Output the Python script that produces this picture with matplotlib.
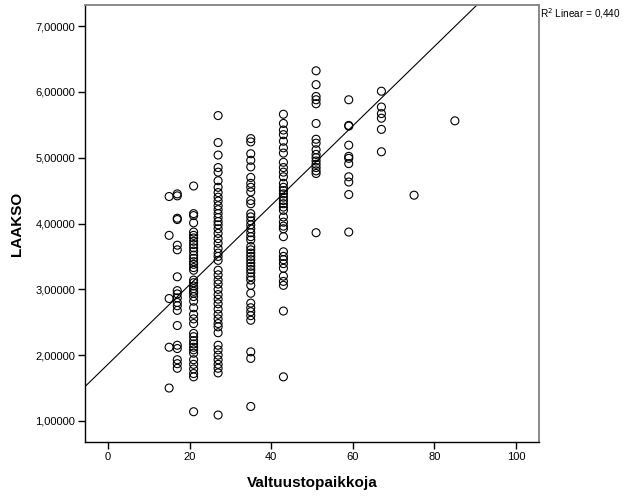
import matplotlib
matplotlib.use("Agg")
import matplotlib.pyplot as plt
from matplotlib.ticker import FuncFormatter
import numpy as np

plt.rcParams['font.family'] = ['Liberation Sans', 'DejaVu Sans']

# Council sizes (x) and LAAKSO values (y) per council size
y15 = [4.41, 3.82, 2.86, 2.12, 1.50]
y17 = [4.45, 4.42, 4.08, 4.06, 3.67, 3.60, 3.19, 2.98, 2.93, 2.87, 2.80, 2.75,
       2.68, 2.45, 2.15, 2.10, 1.93, 1.87, 1.80]
y21 = [4.57, 4.15, 4.12, 4.01, 3.87, 3.82, 3.78, 3.73, 3.68, 3.63, 3.58, 3.52,
       3.47, 3.42, 3.38, 3.33, 3.29, 3.14, 3.10, 3.05, 3.01, 2.97, 2.94, 2.89,
       2.82, 2.72, 2.62, 2.55, 2.48, 2.33, 2.28, 2.22, 2.17, 2.12, 2.08, 2.03,
       1.93, 1.86, 1.79, 1.72, 1.67, 1.14]
y27 = [5.64, 5.23, 5.04, 4.85, 4.78, 4.65, 4.55, 4.47, 4.40, 4.34, 4.27, 4.21,
       4.15, 4.09, 4.03, 3.98, 3.92, 3.85, 3.77, 3.70, 3.62, 3.55, 3.50, 3.44,
       3.29, 3.22, 3.14, 3.08, 3.00, 2.92, 2.85, 2.78, 2.70, 2.62, 2.55, 2.48,
       2.43, 2.34, 2.15, 2.08, 2.00, 1.93, 1.86, 1.80, 1.73, 1.09]
y35 = [5.29, 5.24, 5.06, 4.96, 4.86, 4.70, 4.61, 4.55, 4.48, 4.35, 4.30, 4.15,
       4.10, 4.04, 3.98, 3.92, 3.86, 3.80, 3.75, 3.65, 3.60, 3.55, 3.50, 3.45,
       3.40, 3.35, 3.30, 3.25, 3.19, 3.14, 3.06, 2.94, 2.79, 2.72, 2.66, 2.60,
       2.53, 2.05, 1.95, 1.22]
y43 = [5.66, 5.52, 5.42, 5.35, 5.25, 5.15, 5.07, 4.93, 4.85, 4.78, 4.71, 4.61,
       4.55, 4.50, 4.45, 4.40, 4.35, 4.30, 4.25, 4.20, 4.10, 4.02, 3.96, 3.92,
       3.80, 3.57, 3.50, 3.45, 3.39, 3.32, 3.20, 3.12, 3.06, 2.67, 1.67]
y51 = [6.32, 6.11, 5.93, 5.88, 5.82, 5.52, 5.28, 5.22, 5.12, 5.05, 5.00, 4.95,
       4.90, 4.85, 4.80, 4.76, 3.86]
y59 = [5.88, 5.49, 5.48, 5.19, 5.02, 4.99, 4.91, 4.71, 4.63, 4.44, 3.87]
y67 = [6.01, 5.77, 5.67, 5.60, 5.43, 5.09]
y75 = [4.43]
y85 = [5.56]

council_sizes = [15, 17, 21, 27, 35, 43, 51, 59, 67, 75, 85]
groups = [y15, y17, y21, y27, y35, y43, y51, y59, y67, y75, y85]

# Fit line
fit_intercept = 1.86
fit_slope = 0.0604
r2_label = "R$^2$ Linear = 0,440"

x_ticks = [0, 20, 40, 60, 80, 100]
y_ticks = [1, 2, 3, 4, 5, 6, 7]

xs = np.concatenate([[c] * len(g) for c, g in zip(council_sizes, groups)])
ys = np.concatenate(groups)

fig = plt.figure(figsize=(6.26, 5.01), dpi=100)
ax = fig.add_axes([85 / 626, 59 / 501, 454 / 626, 437 / 501])

ax.scatter(xs, ys, s=33, facecolors='none', edgecolors='black', linewidths=0.8, zorder=3)

xlim = (-5.6, 105.6)
ylim = (0.68, 7.32)
ax.set_xlim(*xlim)
ax.set_ylim(*ylim)

lx = np.array(xlim)
ax.plot(lx, fit_intercept + fit_slope * lx, color='black', linewidth=0.8, zorder=2)

ax.set_xticks(x_ticks)
ax.set_yticks(y_ticks)
ax.yaxis.set_major_formatter(FuncFormatter(lambda v, p: f"{v:.5f}".replace('.', ',')))
ax.tick_params(axis='both', direction='out', length=5, width=1, labelsize=8, color='black', pad=2)

for side in ['left', 'bottom']:
    ax.spines[side].set_color('black')
    ax.spines[side].set_linewidth(1)
for side in ['top', 'right']:
    ax.spines[side].set_color('#808080')
    ax.spines[side].set_linewidth(1.3)

ax.set_xlabel("Valtuustopaikkoja", fontsize=11, fontweight='bold', labelpad=10)
ax.set_ylabel("LAAKSO", fontsize=11, fontweight='bold', labelpad=8)

fig.text(540 / 626, 1 - 14 / 501, r2_label, fontsize=7.2, ha='left', va='center')

fig.savefig("out.png", dpi=100)
